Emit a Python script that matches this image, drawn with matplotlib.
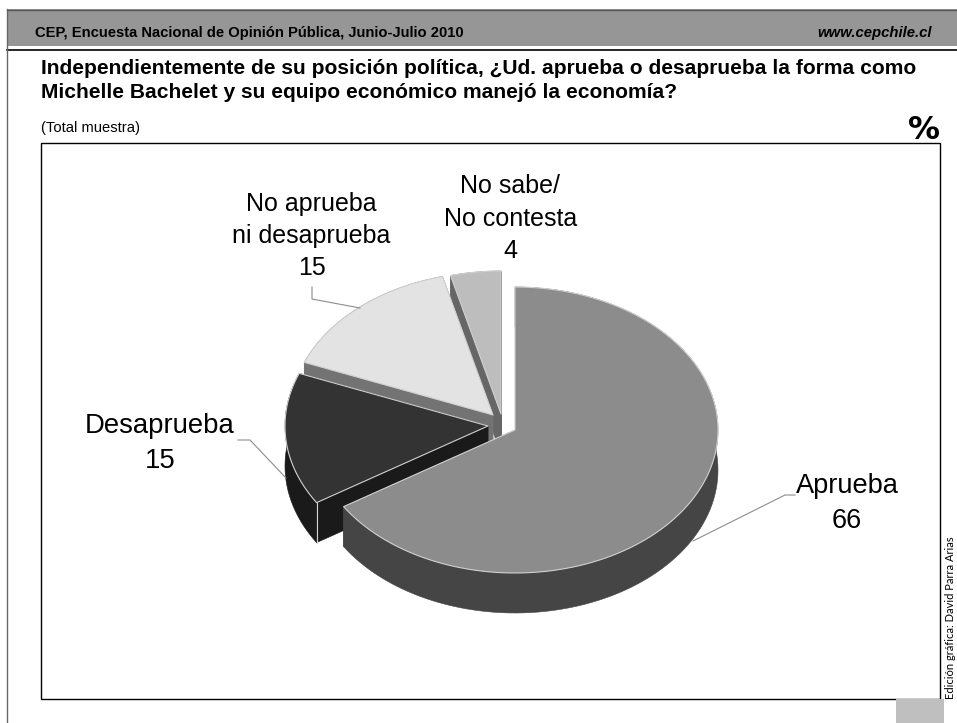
import numpy as np
import matplotlib
matplotlib.use('Agg')
import matplotlib.pyplot as plt
from matplotlib.patches import Polygon, Rectangle

# data
categories = ['Aprueba', 'Desaprueba', 'No aprueba\nni desaprueba', 'No sabe/\nNo contesta']
values = [66, 15, 15, 4]

# look of each slice
top_colors = ['#8c8c8c', '#333333', '#e3e3e3', '#bdbdbd']
wall_colors = ['#454545', '#1a1a1a', '#737373', '#666666']
centers = [(515, 430), (488, 426), (493, 415), (501, 414)]
label_pos = [(847, 503.5), (160, 443.5), (311.5, 236), (510.5, 218.5)]
label_size = [19.6, 19.8, 18, 18]

RX = 203
RY = 143
DEPTH = 40
EDGE = '#d0d0d0'

fig = plt.figure(figsize=(9.57, 7.23), dpi=100)
ax = fig.add_axes([0, 0, 1, 1])
ax.set_xlim(0, 957)
ax.set_ylim(723, 0)
ax.axis('off')

# header band and frame
ax.add_patch(Rectangle((7, 9), 950, 37, fc='#969696', ec='none'))
ax.plot([7, 957], [9.5, 9.5], color='#555555', lw=1)
ax.plot([7, 957], [50, 50], color='black', lw=1.2)
ax.plot([7, 7], [9, 723], color='#666666', lw=1)
ax.add_patch(Rectangle((41, 142.5), 899, 556.5, fc='white', ec='black', lw=1))
ax.add_patch(Rectangle((896, 699), 48, 24, fc='#bfbfbf', ec='none'))

ax.text(35, 33, 'CEP, Encuesta Nacional de Opinión Pública, Junio-Julio 2010',
        family='Liberation Sans', weight='bold', fontsize=10.6, va='center', ha='left')
ax.text(932, 33, 'www.cepchile.cl', family='Liberation Sans', weight='bold', style='italic',
        fontsize=10.7, va='center', ha='right')
ax.text(41, 68, 'Independientemente de su posición política, ¿Ud. aprueba o desaprueba la forma como',
        family='Liberation Sans', weight='bold', fontsize=15.1, va='center', ha='left')
ax.text(41, 93, 'Michelle Bachelet y su equipo económico manejó la economía?',
        family='Liberation Sans', weight='bold', fontsize=15.1, va='center', ha='left')
ax.text(41, 128, '(Total muestra)', family='Liberation Sans', fontsize=10.6, va='center', ha='left')
ax.text(940, 139, '%', family='DejaVu Sans', weight='bold', fontsize=23, va='baseline', ha='right')
ax.text(950, 617.5, 'Edición gráfica: David Parra Arias', family='Lato', fontsize=8,
        rotation=90, va='center', ha='center')


def arc(cx, cy, a0, a1, dy=0):
    t = np.radians(np.linspace(a0, a1, 120))
    return np.column_stack([cx + RX * np.sin(t), cy + dy - RY * np.cos(t)])


# angles run clockwise from 12 o'clock
shares = np.array(values) / sum(values) * 360
starts = np.concatenate([[0], np.cumsum(shares)[:-1]])

# back slices first so the front ones cover them
for i in [3, 2, 1, 0]:
    cx, cy = centers[i]
    a0 = starts[i]
    a1 = a0 + shares[i]
    top = arc(cx, cy, a0, a1)
    low = arc(cx, cy, a0, a1, DEPTH)
    for p in (top[0], top[-1]):
        face = [(cx, cy), p, (p[0], p[1] + DEPTH), (cx, cy + DEPTH)]
        ax.add_patch(Polygon(face, fc=wall_colors[i], ec=wall_colors[i], lw=0.4))
    rim = np.vstack([top, low[::-1]])
    ax.add_patch(Polygon(rim, fc=wall_colors[i], ec=wall_colors[i], lw=0.4))
    if i == 1:
        # light corner line on the front of the dark slice
        ax.plot([top[0][0], top[0][0]], [top[0][1], top[0][1] + DEPTH], color=EDGE, lw=0.8)
    ax.add_patch(Polygon(np.vstack([[cx, cy], top]), fc=top_colors[i], ec=EDGE, lw=0.8, joinstyle='round'))

# leader lines
leader = '#8c8c8c'
ax.plot([693, 785, 795], [541, 495, 495], color=leader, lw=0.8)
ax.plot([238, 250, 286], [440, 440, 478], color=leader, lw=0.8)
ax.plot([312, 312, 360], [287, 299, 308], color=leader, lw=0.8)

for i in range(len(values)):
    ax.text(label_pos[i][0], label_pos[i][1], '%s\n%d' % (categories[i], values[i]),
            family='Liberation Sans', fontsize=label_size[i], ha='center', va='center',
            linespacing=1.44)

fig.savefig('out.png', dpi=100)
